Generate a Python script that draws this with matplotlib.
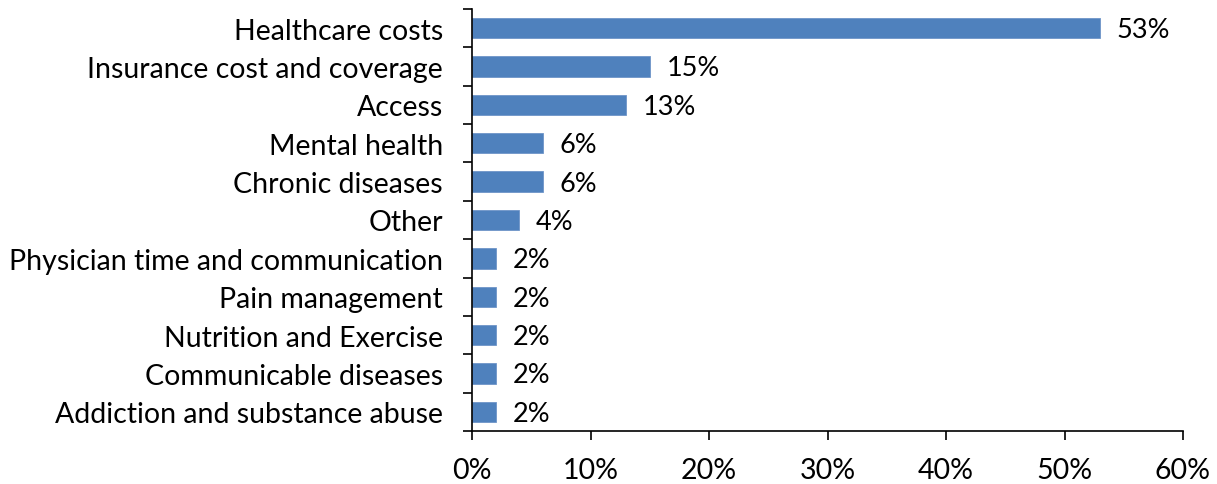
import matplotlib
matplotlib.use("Agg")
import matplotlib.pyplot as plt
import numpy as np
from matplotlib.ticker import FixedLocator, PercentFormatter

categories = ["Healthcare costs", "Insurance cost and coverage", "Access", "Mental health",
              "Chronic diseases", "Other", "Physician time and communication", "Pain management",
              "Nutrition and Exercise", "Communicable diseases", "Addiction and substance abuse"]
values = [53, 15, 13, 6, 6, 4, 2, 2, 2, 2, 2]
xticks = [0, 10, 20, 30, 40, 50, 60]

plt.rcParams['font.family'] = ['Lato', 'DejaVu Sans']

fig = plt.figure(figsize=(12.17, 4.85), dpi=100)
ax = fig.add_axes([472/1217, 53/485, (1183-472)/1217, (432-10)/485])

n = len(categories)
y = np.arange(n)[::-1]
ax.barh(y, values, height=0.53, color="#4F81BD", edgecolor="#6F95C8", linewidth=0.6)
for yi, v in zip(y, values):
    ax.annotate(f"{v}%", (v, yi), xytext=(12, -1), textcoords="offset points",
                va="center", ha="left", fontsize=19.5, color="black")

ax.set_xlim(0, 60)
ax.set_ylim(-0.5, n - 0.5)
ax.set_xticks(xticks)
ax.xaxis.set_major_formatter(PercentFormatter(decimals=0))
ax.set_yticks(y)
ax.set_yticklabels(categories)
ax.yaxis.set_minor_locator(FixedLocator(np.arange(n + 1) - 0.5))
ax.tick_params(axis='y', which='major', length=0, pad=21, labelsize=20.5)
ax.tick_params(axis='y', which='minor', length=6.5, width=1.2, direction='out')
ax.tick_params(axis='x', which='major', length=6.5, width=1.2, direction='out', pad=12, labelsize=20.5)

for s in ["top", "right"]:
    ax.spines[s].set_visible(False)
for s in ["left", "bottom"]:
    ax.spines[s].set_linewidth(1.2)

fig.savefig("out.png", dpi=100)
